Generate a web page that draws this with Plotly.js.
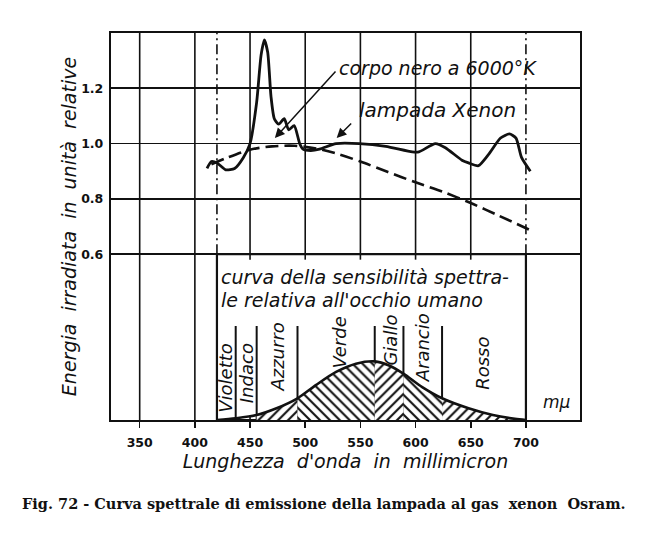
<!DOCTYPE html>
<html>
<head>
<meta charset="utf-8">
<script src="https://cdn.plot.ly/plotly-3.0.1.min.js"></script>
<style>
  html, body { margin: 0; padding: 0; background: #fff; }
  #chart { width: 649px; height: 542px; }
</style>
</head>
<body>
<div id="chart"></div>
<script>
// lampada Xenon (curva continua)
const xenonWl = [411, 415, 420, 428, 436, 444, 450, 456, 460, 463, 466, 469, 472, 476, 481, 485, 490, 495, 498, 505, 513, 528, 549, 573, 597, 603, 618, 627, 642, 648, 657, 666, 677, 685, 691, 696, 704];
const xenonVal = [0.91, 0.935, 0.93, 0.905, 0.91, 0.95, 1.0, 1.15, 1.32, 1.375, 1.33, 1.17, 1.09, 1.07, 1.09, 1.05, 1.065, 1.0, 0.98, 0.975, 0.98, 1.0, 1.0, 0.99, 0.97, 0.97, 1.0, 0.985, 0.94, 0.93, 0.92, 0.96, 1.02, 1.035, 1.02, 0.95, 0.90];

// corpo nero a 6000 K (tratteggiata)
const bodyWl = [415, 430, 450, 470, 490, 510, 530, 550, 575, 600, 625, 650, 675, 705];
const bodyVal = [0.925, 0.95, 0.978, 0.99, 0.992, 0.982, 0.962, 0.935, 0.897, 0.86, 0.825, 0.785, 0.74, 0.685];

// sensibilita' relativa dell'occhio umano (picco = 1)
const eyeWl = [420, 437, 456, 474, 493, 510, 528, 546, 563, 576, 589, 606, 624, 648, 670, 690, 700];
const eyeVal = [0.0, 0.03, 0.085, 0.2, 0.37, 0.6, 0.82, 0.96, 1.0, 0.93, 0.79, 0.56, 0.37, 0.2, 0.085, 0.02, 0.0];

// bande di colore
const bandNames = ['Violetto', 'Indaco', 'Azzurro', 'Verde', 'Giallo', 'Arancio', 'Rosso'];
const bandEdges = [420, 437, 456, 493, 563, 589, 624, 700];

// assi
const xTicks = [350, 400, 450, 500, 550, 600, 650, 700, 750];
const yTicks = [0.6, 0.8, 1.0, 1.2];
const yTickText = ['0.6', '0.8', '1.0', '1.2'];

// stile
const ink = '#111';
const hatch = ['', '', '/', '\\', '/', '\\', '/'];
const bandLabelPos = [[428, 0.152], [446.5, 0.17], [475, 0.228], [531, 0.282], [577.5, 0.29], [606, 0.26], [660, 0.206]];
const italic = { family: 'DejaVu Sans', style: 'italic', color: ink };
const nb = '\u00a0';

const traces = [];

// campiture sotto la curva di sensibilita'
bandNames.forEach((name, i) => {
  if (!hatch[i]) return;
  const lo = bandEdges[i], hi = bandEdges[i + 1];
  const xs = [], ys = [];
  eyeWl.forEach((w, k) => { if (w >= lo && w <= hi) { xs.push(w); ys.push(eyeVal[k]); } });
  traces.push({
    x: xs, y: ys, yaxis: 'y2', type: 'scatter', mode: 'lines',
    line: { width: 0, shape: 'spline', smoothing: 0.8 },
    fill: 'tozeroy', fillcolor: 'rgba(0,0,0,0)',
    fillpattern: { shape: hatch[i], size: 7, solidity: 0.3, fgcolor: ink, bgcolor: 'white' },
    hoverinfo: 'skip', showlegend: false
  });
});

traces.push({
  x: eyeWl, y: eyeVal, yaxis: 'y2', type: 'scatter', mode: 'lines',
  line: { color: ink, width: 2.6, shape: 'spline', smoothing: 0.8 },
  name: 'sensibilità occhio', showlegend: false
});

traces.push({
  x: bodyWl, y: bodyVal, type: 'scatter', mode: 'lines',
  line: { color: ink, width: 2.6, dash: '13px,6px', shape: 'spline', smoothing: 0.8 },
  name: 'corpo nero a 6000°K', showlegend: false
});

traces.push({
  x: xenonWl, y: xenonVal, type: 'scatter', mode: 'lines',
  line: { color: ink, width: 2.8, shape: 'spline', smoothing: 0.6 },
  name: 'lampada Xenon', showlegend: false
});

// linee del reticolo e riquadro
const shapes = [];
const vline = (x, y0, y1, w, dash) => ({
  type: 'line', xref: 'x', yref: 'y', x0: x, x1: x, y0: y0, y1: y1,
  line: { color: ink, width: w, dash: dash || 'solid' }, layer: 'below'
});
[350, 400].forEach(x => shapes.push(vline(x, 0, 1.4, 1.6)));
[450, 500, 550, 600, 650].forEach(x => {
  shapes.push(vline(x, 0.6, 1.4, 1.6));
  shapes.push(vline(x, 0.6, 0.58, 1.6));
  shapes.push(vline(x, 0, 0.016, 1.6));
});
[bandEdges[0], bandEdges[bandEdges.length - 1]].forEach(x => shapes.push(vline(x, 0.6, 1.4, 1.6, '10px,4px,2px,4px')));
bandEdges.slice(1, -1).forEach(x => shapes.push(vline(x, 0, 0.34, 2)));
shapes.push({
  type: 'rect', xref: 'x', yref: 'y', x0: bandEdges[0], x1: bandEdges[bandEdges.length - 1], y0: 0, y1: 0.6,
  line: { color: ink, width: 2.2 }, fillcolor: 'rgba(0,0,0,0)', layer: 'below'
});

const annotations = [
  { x: 620, y: 1.274, text: 'corpo nero a 6000°K', showarrow: false, font: Object.assign({ size: 19 }, italic) },
  { x: 620, y: 1.12, text: 'lampada Xenon', showarrow: false, font: Object.assign({ size: 20 }, italic) },
  { x: 472.5, y: 1.02, text: '', showarrow: true, ax: 62, ay: -68, arrowhead: 2, arrowsize: 1.3, arrowwidth: 1.5, arrowcolor: ink },
  { x: 528.5, y: 1.02, text: '', showarrow: true, ax: 16, ay: -16, arrowhead: 2, arrowsize: 1.3, arrowwidth: 1.5, arrowcolor: ink },
  { x: 422, y: 0.517, xanchor: 'left', text: 'curva della sensibilità spettra-', showarrow: false, font: Object.assign({ size: 19 }, italic) },
  { x: 422, y: 0.434, xanchor: 'left', text: "le relativa all'occhio umano", showarrow: false, font: Object.assign({ size: 19 }, italic) },
  { x: 728, y: 0.065, text: 'mμ', showarrow: false, font: Object.assign({ size: 17 }, italic) },
  {
    xref: 'paper', yref: 'paper', x: 0.454, y: -0.2145, yanchor: 'middle',
    text: 'Fig. 72 - Curva spettrale di emissione della lampada al gas  xenon  Osram.',
    showarrow: false, font: { family: 'DejaVu Serif', size: 14.5, weight: 'bold', color: ink }
  }
];
bandNames.forEach((name, i) => annotations.push({
  x: bandLabelPos[i][0], y: bandLabelPos[i][1], text: name, textangle: -90,
  showarrow: false, font: Object.assign({ size: 18 }, italic)
}));

const layout = {
  width: 649, height: 542,
  margin: { l: 111, r: 69, t: 33, b: 122 },
  paper_bgcolor: 'white', plot_bgcolor: 'white',
  showlegend: false,
  xaxis: {
    range: [324, 749], tickvals: xTicks, ticks: 'outside', ticklen: 6, tickwidth: 1.6, tickcolor: ink,
    showgrid: false, zeroline: false, showline: true, mirror: true, linewidth: 2.2, linecolor: ink,
    tickfont: { family: 'DejaVu Sans', size: 12.5, weight: 'bold', color: ink }, ticklabelstandoff: 4,
    title: {
      text: ['Lunghezza', "d'onda", 'in', 'millimicron'].join(nb + ' '),
      standoff: 5, font: Object.assign({ size: 19 }, italic)
    }
  },
  yaxis: {
    range: [0, 1.4], tickvals: yTicks, ticktext: yTickText, ticks: '',
    showgrid: true, gridcolor: ink, gridwidth: 1.6, zeroline: false,
    showline: true, mirror: true, linewidth: 2.2, linecolor: ink,
    tickfont: { family: 'DejaVu Sans', size: 12.5, weight: 'bold', color: ink }, ticklabelstandoff: 3,
    title: {
      text: ['Energia', 'irradiata', 'in', 'unità', 'relative'].join(nb + ' '),
      standoff: 0, font: Object.assign({ size: 19 }, italic)
    }
  },
  yaxis2: { range: [0, 6.6], overlaying: 'y', visible: false, showgrid: false },
  shapes: shapes,
  annotations: annotations
};

Plotly.newPlot('chart', traces, layout, { staticPlot: true });
</script>
</body>
</html>
